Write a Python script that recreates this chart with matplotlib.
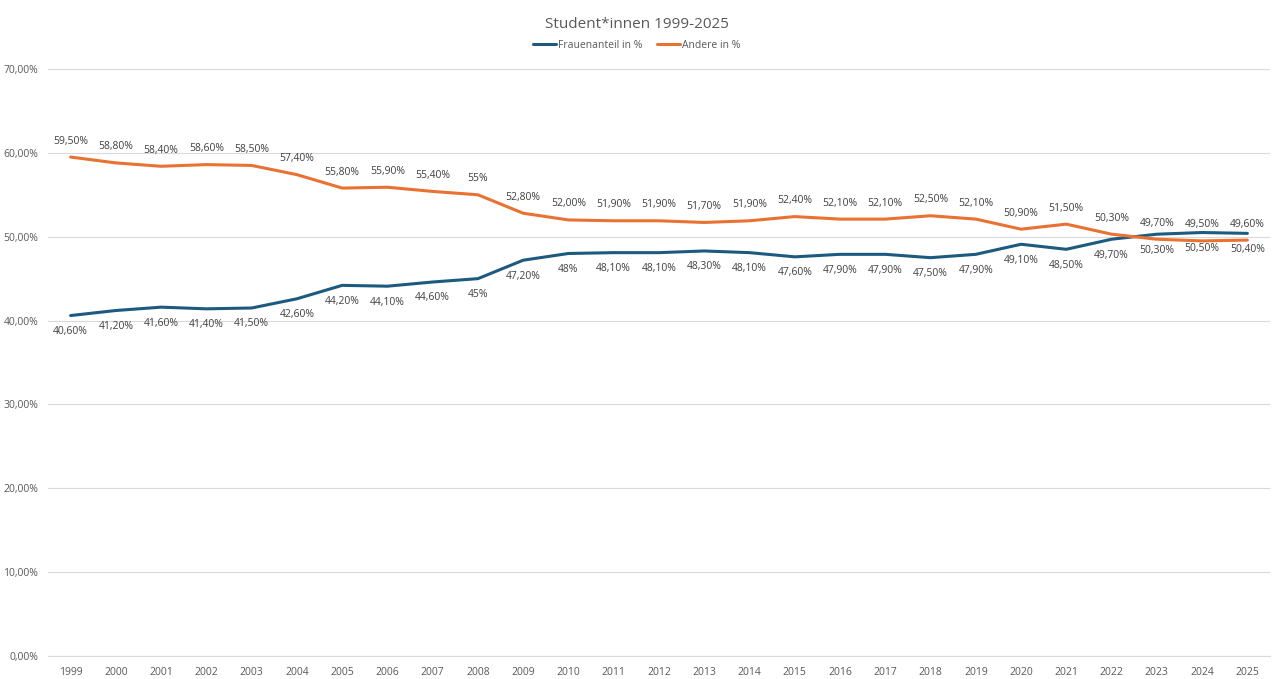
import matplotlib.pyplot as plt
from matplotlib.ticker import FuncFormatter

years = list(range(1999, 2026))
frauen = [40.6, 41.2, 41.6, 41.4, 41.5, 42.6, 44.2, 44.1, 44.6, 45.0, 47.2, 48.0, 48.1,
          48.1, 48.3, 48.1, 47.6, 47.9, 47.9, 47.5, 47.9, 49.1, 48.5, 49.7, 50.3, 50.5, 50.4]
andere = [59.5, 58.8, 58.4, 58.6, 58.5, 57.4, 55.8, 55.9, 55.4, 55.0, 52.8, 52.0, 51.9,
          51.9, 51.7, 51.9, 52.4, 52.1, 52.1, 52.5, 52.1, 50.9, 51.5, 50.3, 49.7, 49.5, 49.6]
frauen_labels = ['40,60%', '41,20%', '41,60%', '41,40%', '41,50%', '42,60%', '44,20%', '44,10%',
                 '44,60%', '45%', '47,20%', '48%', '48,10%', '48,10%', '48,30%', '48,10%', '47,60%',
                 '47,90%', '47,90%', '47,50%', '47,90%', '49,10%', '48,50%', '49,70%', '50,30%',
                 '50,50%', '50,40%']
andere_labels = ['59,50%', '58,80%', '58,40%', '58,60%', '58,50%', '57,40%', '55,80%', '55,90%',
                 '55,40%', '55%', '52,80%', '52,00%', '51,90%', '51,90%', '51,70%', '51,90%', '52,40%',
                 '52,10%', '52,10%', '52,50%', '52,10%', '50,90%', '51,50%', '50,30%', '49,70%',
                 '49,50%', '49,60%']

blue = '#1d5a80'
orange = '#e97132'
grey = '#595959'

plt.rcParams['font.family'] = ['Open Sans', 'DejaVu Sans']

fig = plt.figure(figsize=(12.73, 6.79), dpi=100)
ax = fig.add_axes([48 / 1273, 1 - 656 / 679, 1222 / 1273, (656 - 69) / 679])

x = list(range(len(years)))
ax.plot(x, frauen, color=blue, lw=2.2, label='Frauenanteil in %', solid_capstyle='round')
ax.plot(x, andere, color=orange, lw=2.2, label='Andere in %', solid_capstyle='round')

for i in x:
    ax.annotate(frauen_labels[i], (i, frauen[i]), xytext=(0, -11.5), textcoords='offset points',
                ha='center', va='center', fontsize=7.5, color='#404040')
    ax.annotate(andere_labels[i], (i, andere[i]), xytext=(0, 11.5), textcoords='offset points',
                ha='center', va='center', fontsize=7.5, color='#404040')

ax.set_xlim(-0.5, len(years) - 0.5)
ax.set_ylim(0, 70)
ax.set_yticks(range(0, 71, 10))
ax.yaxis.set_major_formatter(FuncFormatter(lambda v, p: f'{v:.2f}'.replace('.', ',') + '%'))
ax.set_xticks(x)
ax.set_xticklabels([str(y) for y in years])
ax.tick_params(axis='both', length=0, labelsize=7.5, colors=grey)
ax.tick_params(axis='x', pad=8)
ax.tick_params(axis='y', pad=7)
ax.grid(axis='y', color='#d9d9d9', lw=0.8)
ax.set_axisbelow(True)
for s in ['top', 'right', 'left']:
    ax.spines[s].set_visible(False)
ax.spines['bottom'].set_color('#d9d9d9')
ax.spines['bottom'].set_linewidth(0.8)

fig.suptitle('Student*innen 1999-2025', y=0.975, fontsize=11, color=grey)
fig.legend(loc='center', bbox_to_anchor=(0.5, 1 - 45 / 679), ncol=2, frameon=False,
           fontsize=7.5, handlelength=2.2, handletextpad=0.2, columnspacing=1.4, labelcolor=grey)

fig.savefig('out.png', dpi=100)
